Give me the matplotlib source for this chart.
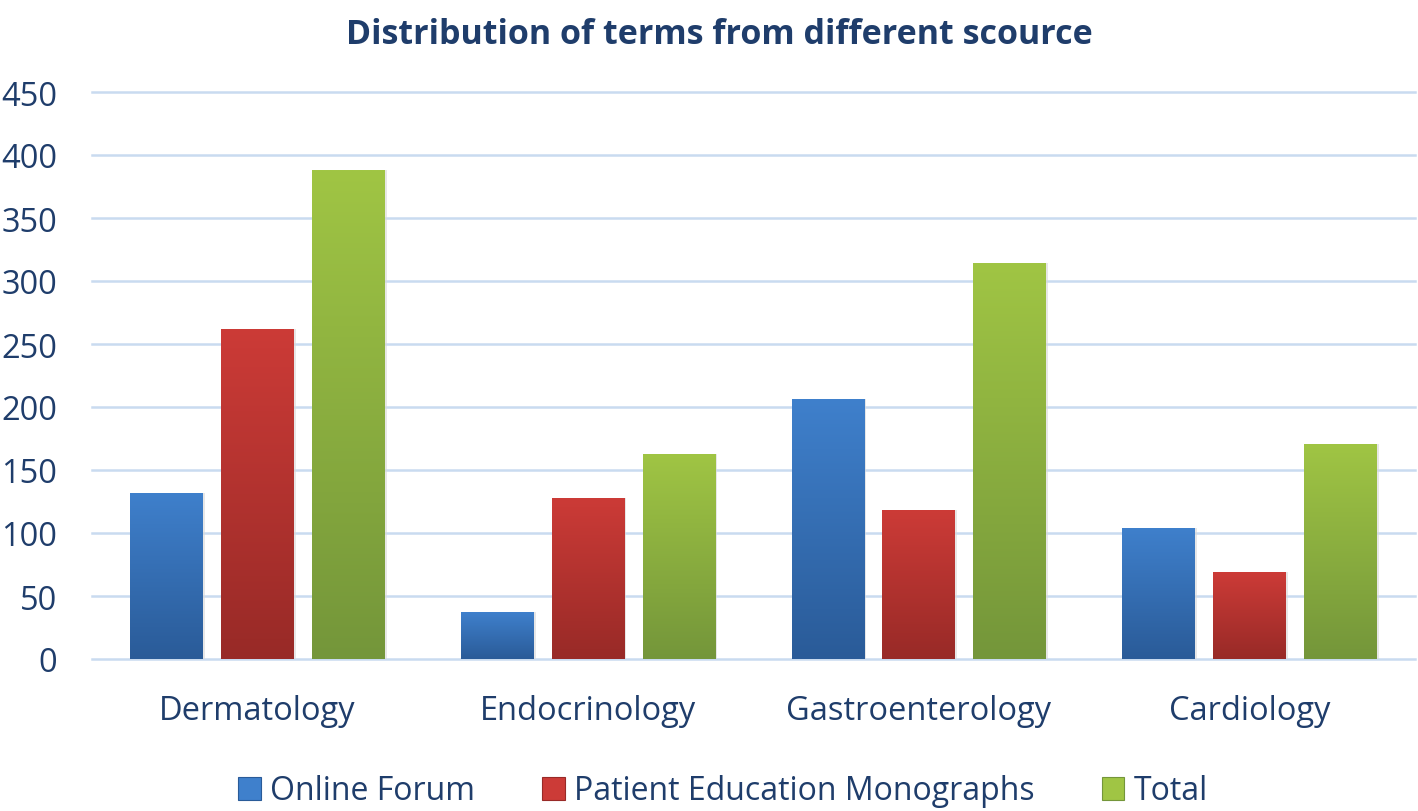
import numpy as np
import matplotlib.pyplot as plt
from matplotlib.colors import LinearSegmentedColormap
from matplotlib.patches import Patch

CATS = ['Dermatology', 'Endocrinology', 'Gastroenterology', 'Cardiology']
LABELS = ['Online Forum', 'Patient Education Monographs', 'Total']
ONLINE = [132, 37, 206, 104]
PEM = [262, 128, 118, 69]
TOTAL = [388, 163, 314, 171]
YTICKS = [0, 50, 100, 150, 200, 250, 300, 350, 400, 450]

# (top colour, bottom colour) for the gradient fill
GRAD = [('#3f80cc', '#2a5b98'), ('#cc3b37', '#982a27'), ('#a0c544', '#74963a')]
TXT = '#1f3d6b'

plt.rcParams['font.family'] = ['Open Sans', 'DejaVu Sans']

fig = plt.figure(figsize=(14.18, 8.12), dpi=100)
ax = fig.add_axes([92/1418, 1-660/812, 1323/1418, (660-93)/812])

x = np.arange(len(CATS))
width = 0.22
step = 0.275
series = [ONLINE, PEM, TOTAL]

for i, vals in enumerate(series):
    top, bot = GRAD[i]
    cmap = LinearSegmentedColormap.from_list('g%d' % i, [bot, top])
    bars = ax.bar(x + (i - 1) * step, vals, width, color=top, zorder=3)
    for b in bars:
        x0, y0 = b.get_x(), b.get_y()
        w, h = b.get_width(), b.get_height()
        grad = np.linspace(0, 1, 256).reshape(-1, 1)
        im = ax.imshow(grad, cmap=cmap, origin='lower', aspect='auto',
                       extent=(x0, x0 + w, y0, y0 + h), zorder=4)
        im.set_clip_path(b)
        # soft shadow on the right
        ax.add_patch(plt.Rectangle((x0 + w, y0), 0.006, h, color='#d8d8d8',
                                   alpha=0.6, zorder=2, lw=0))

ax.set_xlim(-0.5, 3.5)
ax.set_ylim(0, 450)
ax.set_yticks(YTICKS)
ax.set_xticks(x)
ax.set_xticklabels(CATS)
ax.tick_params(axis='both', length=0, labelcolor=TXT)
ax.tick_params(axis='y', pad=25, labelsize=23.5)
ax.tick_params(axis='x', pad=25, labelsize=23.5)
ax.grid(axis='y', color='#c9dbf0', lw=1.8, zorder=0)
for gl in ax.get_ygridlines():
    gl.set_clip_on(False)
ax.set_axisbelow(True)
for s in ax.spines.values():
    s.set_visible(False)

fig.text(0.507, 0.978, 'Distribution of terms from different scource',
         ha='center', va='top', fontsize=24.5, fontweight='bold', color=TXT)

handles = [Patch(facecolor=GRAD[i][0], edgecolor=GRAD[i][1], lw=0.8)
           for i in range(3)]
leg = fig.legend(handles, LABELS, loc='center', bbox_to_anchor=(0.51, 1-792/812),
                 ncol=3, frameon=False, fontsize=23, handlelength=0.7,
                 handleheight=0.7, handletextpad=0.3, columnspacing=2.1)
for t in leg.get_texts():
    t.set_color(TXT)

fig.savefig('out.png', dpi=100)
